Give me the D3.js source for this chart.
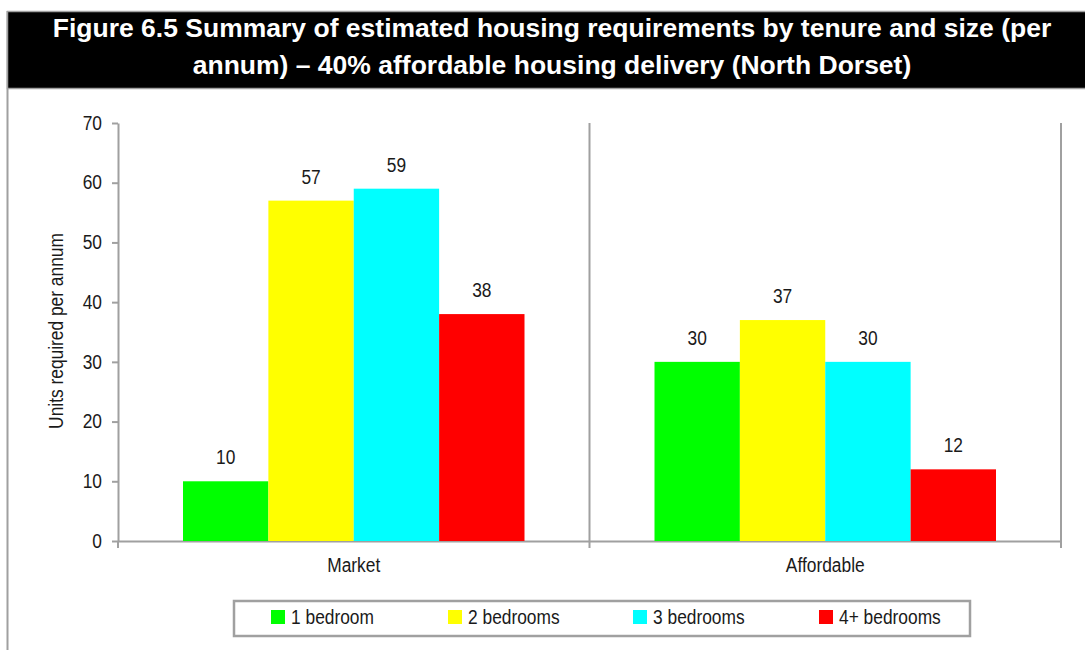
<!DOCTYPE html>
<html>
<head>
<meta charset="utf-8">
<script src="https://cdn.jsdelivr.net/npm/d3@7"></script>
<style>
  body { margin: 0; background: #fff; }
  text { font-family: "Liberation Sans", Arial, sans-serif; }
</style>
</head>
<body>
<svg id="chart" width="1085" height="650"></svg>
<script>
const titleLines = [
    "Figure 6.5 Summary of estimated housing requirements by tenure and size (per",
    "annum) \u2013 40% affordable housing delivery (North Dorset)"
];
const tenures = ["Market", "Affordable"];
const sizes = ["1 bedroom", "2 bedrooms", "3 bedrooms", "4+ bedrooms"];
const marketValues = [10, 57, 59, 38];
const affordableValues = [30, 37, 30, 12];
const yTicks = [0, 10, 20, 30, 40, 50, 60, 70];
const sizeColors = ["#00ff00", "#ffff00", "#00ffff", "#ff0000"];

const rows = tenures.map((t, i) => ({
    tenure: t,
    values: (i === 0 ? marketValues : affordableValues).map((v, j) => ({size: sizes[j], value: v}))
}));

const svg = d3.select("#chart");
const axisColor = "#a0a0a0";
const textColor = "#1a1a1a";
const bodySize = "19.5px";

// title box
svg.append("line")
    .attr("x1", 7.5).attr("x2", 7.5)
    .attr("y1", 11).attr("y2", 650)
    .attr("stroke", axisColor).attr("stroke-width", 2);
svg.append("rect")
    .attr("x", 7.5).attr("y", 11.5)
    .attr("width", 1085).attr("height", 77)
    .attr("fill", "#000")
    .attr("stroke", axisColor)
    .attr("stroke-width", 1.5);
svg.selectAll(".title")
    .data(titleLines)
    .enter()
    .append("text")
    .attr("class", "title")
    .attr("x", 552)
    .attr("y", (d, i) => 37 + i * 37)
    .attr("text-anchor", "middle")
    .attr("fill", "#fff")
    .style("font-size", "25px")
    .style("font-weight", "bold")
    .text(d => d);

const margin = {left: 118, top: 123};
const width = 943, height = 418;
const g = svg.append("g")
    .attr("transform", "translate(" + margin.left + "," + margin.top + ")");

const y = d3.scaleLinear().domain([0, 70]).range([height, 0]);
const x0 = d3.scaleBand().domain(tenures).range([0, width]);
const x1 = d3.scaleBand().domain(sizes).range([65, x0.bandwidth() - 65]);

// y axis
const yAxis = g.append("g")
    .call(d3.axisLeft(y).tickValues(yTicks).tickSize(6).tickPadding(10).tickSizeOuter(0));
yAxis.select(".domain").attr("stroke", axisColor).attr("stroke-width", 2);
yAxis.selectAll(".tick line").attr("stroke", axisColor).attr("stroke-width", 2);
yAxis.selectAll(".tick text")
    .attr("class", "cond")
    .attr("fill", textColor)
    .style("font-size", bodySize)
    .style("font-family", "Liberation Sans, Arial, sans-serif");

// x axis
const xAxis = g.append("g")
    .attr("transform", "translate(0," + height + ")")
    .call(d3.axisBottom(x0).tickSize(0).tickPadding(17));
xAxis.select(".domain").attr("stroke", axisColor).attr("stroke-width", 2);
xAxis.selectAll(".tick text")
    .attr("class", "cond")
    .attr("fill", textColor)
    .style("font-size", bodySize)
    .style("font-family", "Liberation Sans, Arial, sans-serif");

// category dividers
const dividers = [0, x0.bandwidth(), width];
g.selectAll(".divider")
    .data(dividers)
    .enter()
    .append("line")
    .attr("class", "divider")
    .attr("x1", d => d).attr("x2", d => d)
    .attr("y1", (d, i) => i === 0 ? height : 0)
    .attr("y2", height + 7)
    .attr("stroke", axisColor)
    .attr("stroke-width", 2);

// bars
const groups = g.selectAll(".group")
    .data(rows)
    .enter()
    .append("g")
    .attr("transform", d => "translate(" + x0(d.tenure) + ",0)");

groups.selectAll("rect")
    .data(d => d.values)
    .enter()
    .append("rect")
    .attr("x", d => x1(d.size))
    .attr("y", d => y(d.value))
    .attr("width", x1.bandwidth())
    .attr("height", d => height - y(d.value))
    .attr("fill", (d, i) => sizeColors[i]);

groups.selectAll(".label")
    .data(d => d.values)
    .enter()
    .append("text")
    .attr("class", "cond")
    .attr("x", d => x1(d.size) + x1.bandwidth() / 2)
    .attr("y", d => y(d.value) - 17)
    .attr("text-anchor", "middle")
    .attr("fill", textColor)
    .style("font-size", bodySize)
    .text(d => d.value);

// y axis title
svg.append("text")
    .attr("class", "cond")
    .attr("transform", "translate(63,331) rotate(-90)")
    .attr("text-anchor", "middle")
    .attr("fill", textColor)
    .style("font-size", bodySize)
    .text("Units required per annum");

// legend
const legend = svg.append("g");
legend.append("rect")
    .attr("x", 234).attr("y", 601)
    .attr("width", 736).attr("height", 35)
    .attr("fill", "#fff")
    .attr("stroke", axisColor)
    .attr("stroke-width", 2.5);
const legendX = [271, 448, 633, 819];
const items = legend.selectAll(".item")
    .data(sizes)
    .enter()
    .append("g")
    .attr("transform", (d, i) => "translate(" + legendX[i] + ",610)");
items.append("rect")
    .attr("width", 14).attr("height", 14)
    .attr("fill", (d, i) => sizeColors[i]);
items.append("text")
    .attr("class", "cond")
    .attr("x", 20).attr("y", 14)
    .attr("fill", textColor)
    .style("font-size", bodySize)
    .text(d => d);

// the source uses a narrow face: squeeze body text horizontally
svg.selectAll("text.cond").each(function() {
    const len = this.getComputedTextLength();
    d3.select(this)
        .attr("textLength", len * 0.89)
        .attr("lengthAdjust", "spacingAndGlyphs");
});
// title is a touch wider than the bold face at this height
svg.selectAll("text.title").each(function() {
    const len = this.getComputedTextLength();
    d3.select(this)
        .attr("textLength", len * 1.06)
        .attr("lengthAdjust", "spacingAndGlyphs");
});
</script>
</body>
</html>
